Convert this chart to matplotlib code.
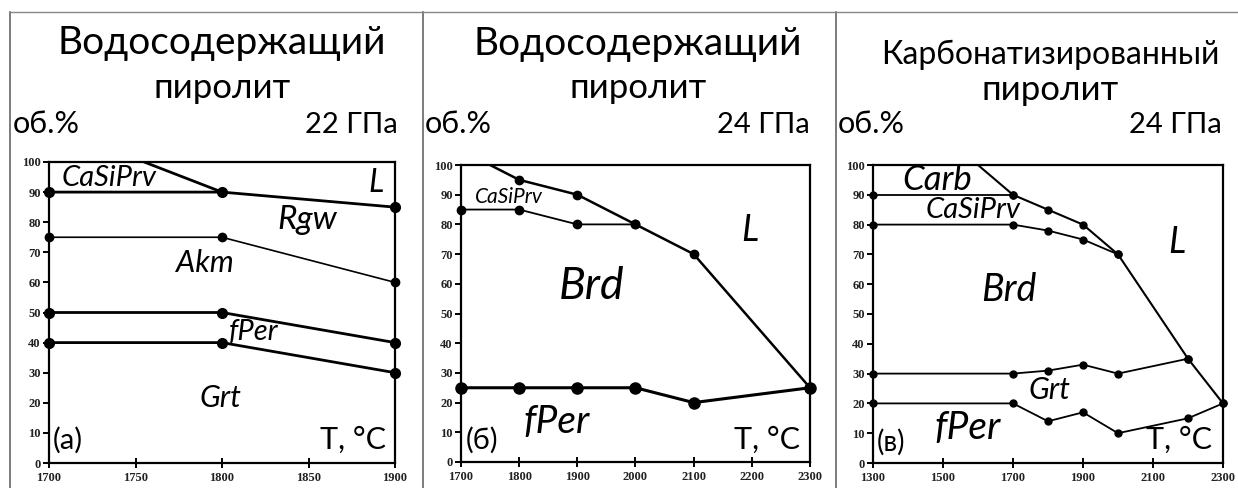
import matplotlib
matplotlib.use("Agg")
import matplotlib.pyplot as plt
from matplotlib.lines import Line2D

# ---------- data ----------
# panel (a): 22 GPa, water-bearing pyrolite
a_t = [1700, 1800, 1900]
a_casiprv = [90, 90, 85]
a_liq_t = [1755, 1800]
a_liq = [100, 90]
a_rgw = [75, 75, 60]
a_akm = [50, 50, 40]
a_fper = [40, 40, 30]

# panel (b): 24 GPa, water-bearing pyrolite
b_liq_t = [1750, 1800, 1900, 2000, 2100, 2300]
b_liq = [100, 95, 90, 80, 70, 25]
b_casi_t = [1700, 1800, 1900, 2000]
b_casi = [85, 85, 80, 80]
b_fper_t = [1700, 1800, 1900, 2000, 2100, 2300]
b_fper = [25, 25, 25, 25, 20, 25]

# panel (c): 24 GPa, carbonated pyrolite
c_carb_t = [1300, 1700]
c_carb = [90, 90]
c_liq_t = [1600, 1700, 1800, 1900, 2000, 2200, 2300]
c_liq = [100, 90, 85, 80, 70, 35, 20]
c_casi_t = [1300, 1700, 1800, 1900, 2000]
c_casi = [80, 80, 78, 75, 70]
c_grt_t = [1300, 1700, 1800, 1900, 2000, 2200]
c_grt = [30, 30, 31, 33, 30, 35]
c_fper_t = [1300, 1700, 1800, 1900, 2000, 2200, 2300]
c_fper = [20, 20, 14, 17, 10, 15, 20]

W, H = 1238, 488
fig = plt.figure(figsize=(W / 100, H / 100), dpi=100)
FONT = ["Lato", "DejaVu Sans"]


def px(x, y):
    return x / W, 1 - y / H


def axes_at(l, t, r, b):
    return fig.add_axes([l / W, 1 - b / H, (r - l) / W, (b - t) / H])


def style(ax, xlim, xticks):
    ax.set_xlim(*xlim)
    ax.set_ylim(0, 100)
    ax.set_xticks(xticks)
    ax.set_yticks(range(0, 101, 10))
    for s in ax.spines.values():
        s.set_linewidth(1.6)
    ax.tick_params(axis="y", direction="out", length=4, width=1.4, pad=2)
    ax.tick_params(axis="x", direction="inout", length=7, width=1.4, pad=3)
    for lab in ax.get_xticklabels() + ax.get_yticklabels():
        lab.set_fontfamily("Liberation Serif")
        lab.set_fontweight("bold")
        lab.set_fontsize(9)
        lab.set_color("#222222")


def line(ax, x, y, lw=1.6, ms=6):
    ax.plot(x, y, color="black", lw=lw, marker="o", ms=ms, clip_on=False, zorder=3)


def label(ax, x, y, s, size, italic=True, ha="center"):
    ax.text(x, y, s, fontsize=size, family=FONT, style="italic" if italic else "normal",
            ha=ha, va="center")


def header(cx, l, r, line1, s1, y1, size1, y2=98):
    fig.text(*px(cx, y1), line1, fontsize=size1, family=FONT, ha="center", va="baseline")
    fig.text(*px(cx, y2), "пиролит", fontsize=25, family=FONT, ha="center", va="baseline")
    fig.text(*px(l, 133), "об.%", fontsize=22, family=FONT, ha="left", va="baseline")
    fig.text(*px(r, 133), s1, fontsize=21, family=FONT, ha="right", va="baseline")


# frame lines
for xs in [10, 423, 836]:
    fig.add_artist(Line2D([xs / W, xs / W], [0, 1 - 12 / H], color="#666666", lw=1.2))
fig.add_artist(Line2D([10 / W, 1], [1 - 12 / H, 1 - 12 / H], color="#888888", lw=1.0))

# ---------- panel (a) ----------
ax = axes_at(49, 162, 395, 463)
style(ax, (1700, 1900), [1700, 1750, 1800, 1850, 1900])
line(ax, a_t, a_casiprv, lw=2.0, ms=7)
ax.plot(a_liq_t, a_liq, color="black", lw=2.0, zorder=3)
line(ax, a_t, a_rgw, lw=1.2, ms=6)
line(ax, a_t, a_akm, lw=2.0, ms=7)
line(ax, a_t, a_fper, lw=2.0, ms=7)
label(ax, 1735, 94.7, "CaSiPrv", 21)
label(ax, 1889, 93, "L", 23)
label(ax, 1849, 80.7, "Rgw", 24)
label(ax, 1790, 66.4, "Akm", 22)
label(ax, 1818, 43.5, "fPer", 21)
label(ax, 1799, 21.6, "Grt", 22)
label(ax, 1702, 7.6, "(a)", 21, italic=False, ha="left")
label(ax, 1895, 7.6, "T, °C", 22, italic=False, ha="right")
header(222, 13, 398, "Водосодержащий", "22 ГПа", 54, 28)

# ---------- panel (b) ----------
ax = axes_at(461, 165, 810, 462)
style(ax, (1700, 2300), [1700, 1800, 1900, 2000, 2100, 2200, 2300])
line(ax, b_liq_t[1:], b_liq[1:], lw=1.8, ms=6)
ax.plot(b_liq_t[:2], b_liq[:2], color="black", lw=1.8, zorder=3)
line(ax, b_casi_t, b_casi, lw=1.3, ms=6)
line(ax, b_fper_t, b_fper, lw=2.2, ms=8)
label(ax, 1783, 89.2, "CaSiPrv", 15)
label(ax, 2197, 78, "L", 26)
label(ax, 1925, 59, "Brd", 32)
label(ax, 1865, 13.5, "fPer", 28)
label(ax, 1708, 7.4, "(б)", 21, italic=False, ha="left")
label(ax, 2282, 7.4, "T, °C", 22, italic=False, ha="right")
header(638, 425, 810, "Водосодержащий", "24 ГПа", 55, 28)

# ---------- panel (c) ----------
ax = axes_at(873, 165, 1223, 463)
style(ax, (1300, 2300), [1300, 1500, 1700, 1900, 2100, 2300])
line(ax, c_carb_t, c_carb, lw=1.3, ms=5)
line(ax, c_liq_t[1:], c_liq[1:], lw=1.5, ms=5)
ax.plot(c_liq_t[:2], c_liq[:2], color="black", lw=1.5, zorder=3)
line(ax, c_casi_t, c_casi, lw=1.3, ms=5)
line(ax, c_grt_t, c_grt, lw=1.3, ms=5)
line(ax, c_fper_t, c_fper, lw=1.3, ms=5)
label(ax, 1484, 95, "Carb", 25)
label(ax, 1586, 85, "CaSiPrv", 21)
label(ax, 2168, 74, "L", 26)
label(ax, 1689, 58, "Brd", 27)
label(ax, 1803, 24.5, "Grt", 22)
label(ax, 1570, 11.8, "fPer", 28)
label(ax, 1312, 7.0, "(в)", 20, italic=False, ha="left")
label(ax, 2269, 7.7, "T, °C", 22, italic=False, ha="right")
header(1050, 838, 1222, "Карбонатизированный", "24 ГПа", 64, 23, y2=100)

fig.savefig("out.png", dpi=100)
